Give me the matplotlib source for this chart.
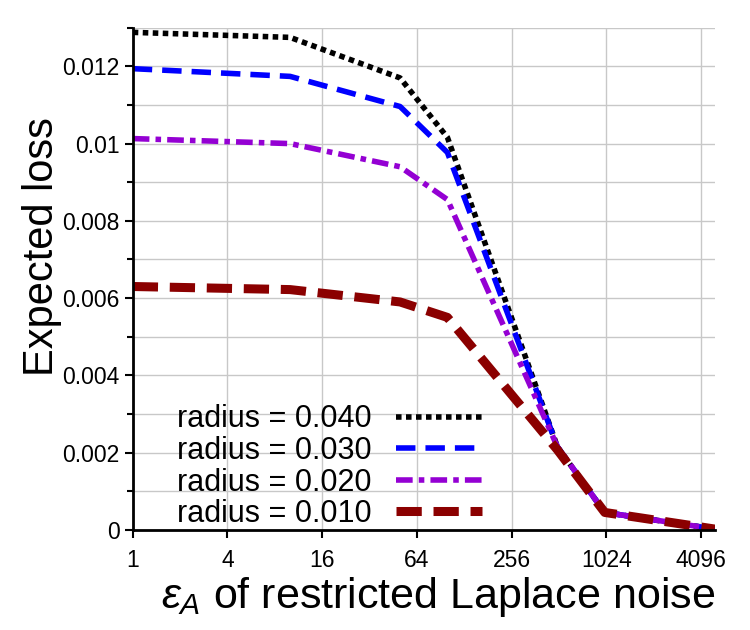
import matplotlib
matplotlib.use("Agg")
import matplotlib.pyplot as plt
from matplotlib.ticker import FixedLocator, MultipleLocator, FormatStrFormatter

plt.rcParams['font.family'] = ['Liberation Sans', 'DejaVu Sans']
plt.rcParams['mathtext.fontset'] = 'custom'
plt.rcParams['mathtext.it'] = 'Liberation Sans:italic'
plt.rcParams['mathtext.rm'] = 'Liberation Sans'

# data
eps = [1, 10, 50, 100, 500, 1000, 5000]
loss_040 = [0.01288, 0.01275, 0.01170, 0.01016, 0.00215, 0.00045, 0.00002]
loss_030 = [0.01194, 0.01174, 0.01096, 0.00977, 0.00215, 0.00045, 0.00002]
loss_020 = [0.01013, 0.01000, 0.00940, 0.00855, 0.00215, 0.00045, 0.00002]
loss_010 = [0.00630, 0.00622, 0.00590, 0.00550, 0.00207, 0.00045, 0.00002]
xticks = [1, 4, 16, 64, 256, 1024, 4096]

fig = plt.figure(figsize=(7.5, 6.3), dpi=100)
ax = fig.add_axes([0.177, 0.159, 0.776, 0.797])

ax.plot(eps, loss_040, color='black', lw=4, ls=(0, (1, 0.8)), label='radius = 0.040')
ax.plot(eps, loss_030, color='#0000ff', lw=4, ls=(0, (3.5, 1.8)), label='radius = 0.030')
ax.plot(eps, loss_020, color='#9400d3', lw=4, ls=(0, (3, 1.1, 1, 1.1)), label='radius = 0.020')
ax.plot(eps, loss_010, color='#8b0000', lw=6.5, ls=(0, (2.8, 1.3)), label='radius = 0.010')

ax.set_xscale('log', base=2)
ax.set_xlim(1, 5000)
ax.set_ylim(0, 0.013)
ax.xaxis.set_major_locator(FixedLocator(xticks))
ax.xaxis.set_minor_locator(FixedLocator([]))
ax.set_xticklabels([str(t) for t in xticks])
ax.yaxis.set_major_locator(MultipleLocator(0.002))
ax.yaxis.set_minor_locator(MultipleLocator(0.001))
ax.yaxis.set_major_formatter(FormatStrFormatter('%g'))

ax.grid(True, which='major', axis='x', color='#c8c8c8', lw=1)
ax.grid(True, which='both', axis='y', color='#c8c8c8', lw=1)
ax.set_axisbelow(True)

for s in ['top', 'right']:
    ax.spines[s].set_visible(False)
for s in ['left', 'bottom']:
    ax.spines[s].set_linewidth(2)

ax.tick_params(axis='both', which='major', labelsize=16.5, width=1.5, length=6, direction='out')
ax.tick_params(axis='y', which='minor', width=1.5, length=4, direction='out')
ax.tick_params(axis='x', pad=8)

ax.set_ylabel('Expected loss', fontsize=30, labelpad=0)
ax.yaxis.label.set_y(0.564)
ax.set_xlabel(r'$\varepsilon_A$ of restricted Laplace noise', fontsize=31, labelpad=2)
ax.xaxis.label.set_x(0.525)

leg = ax.legend(loc='lower left', bbox_to_anchor=(0.045, -0.035), frameon=False,
                markerfirst=False, fontsize=22, handlelength=2.8,
                labelspacing=0.05, handletextpad=0.8, borderaxespad=0.2)
for t in leg.get_texts():
    t.set_ha('right')

fig.savefig('out.png', dpi=100)
